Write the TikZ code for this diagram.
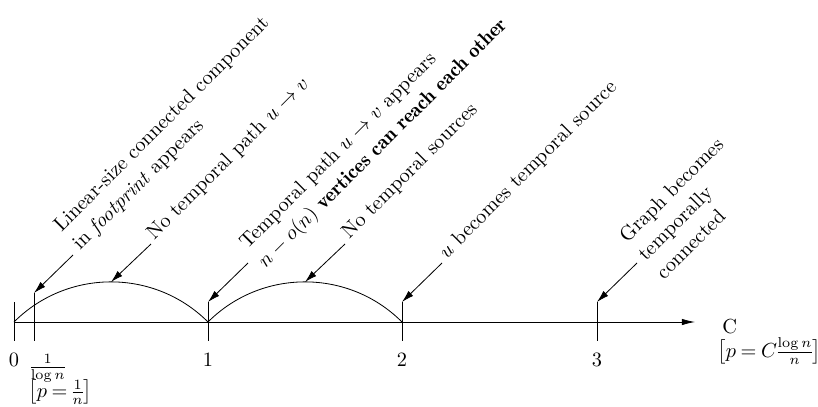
\documentclass[tikz,border=0pt]{standalone}
\usetikzlibrary{arrows.meta}
% slightly tighter spacing for the bracketed probabilities
\newcommand\tightmath{\thickmuskip=4mu\relax\nulldelimiterspace=0.3pt\relax}
\begin{document}
\begin{tikzpicture}[x=0.4914pt,y=-0.4914pt,
  lbl/.style={rotate=45, inner sep=0pt, align=left,
              font=\fontsize{10}{12.8}\selectfont},
  pin/.style={-{Latex[length=6pt,width=3.4pt]}},
  axisline/.style={-{Latex[length=6.5pt,width=3.2pt]}},
  ticklbl/.style={inner sep=0pt},
  bracketlbl/.style={inner sep=0pt, anchor=base west}]
\useasboundingbox (0,0) rectangle (818,407);

% points on the axis
\coordinate (p0) at (14,322);
\coordinate (p1) at (208,322);
\coordinate (p2) at (402,322);
\coordinate (p3) at (597,322);
\coordinate (pend) at (695,322);

% tick tops and bottoms
\coordinate (t0) at (14,302);   \coordinate (b0) at (14,341);
\coordinate (tl) at (34,293);   \coordinate (bl) at (34,341);
\coordinate (t1) at (208,302);  \coordinate (b1) at (208,341);
\coordinate (t2) at (402,302);  \coordinate (b2) at (402,341);
\coordinate (t3) at (597,302);  \coordinate (b3) at (597,341);

% axis and ticks
\draw[axisline] (p0) -- (pend);
\draw (t0) -- (b0);
\draw (tl) -- (bl);
\draw (t1) -- (b1);
\draw (t2) -- (b2);
\draw (t3) -- (b3);

% the two phase arcs
\draw (p0) to[out=45,in=135] (p1);
\draw (p1) to[out=45,in=135] (p2);
\coordinate (peak1) at (111,282);
\coordinate (peak2) at (305,282);

% tick labels
\node[ticklbl, anchor=base] (n0) at (14,366.5) {0};
\node[ticklbl, anchor=base] (n1) at (208,366.5) {1};
\node[ticklbl, anchor=base] (n2) at (402,366.5) {2};
\node[ticklbl, anchor=base] (n3) at (597,366.5) {3};
\node[ticklbl, anchor=base west] (nl) at (28,372) {$\frac{1}{\log n}$};
\node[bracketlbl] (pl) at (28,397.3) {$\tightmath\bigl[p=\frac{1}{n}\bigr]$};
\node[ticklbl, anchor=base west] (nc) at (722,333) {C};
\node[bracketlbl] (pc) at (717,357) {$\tightmath\bigl[p=C\frac{\log n}{n}\bigr]$};

% arrow starts
\coordinate (s1) at (73,255);
\coordinate (s2) at (151,244);
\coordinate (s3) at (248,263);
\coordinate (s4) at (345,244);
\coordinate (s5) at (442,263);
\coordinate (s6) at (637,263);

% rotated event labels
\node[lbl, anchor=west] (l1) at (67,238.5)
  {Linear-size connected component\\in \emph{footprint} appears};
\node[lbl, anchor=base west] (l2) at (154,240.7)
  {No temporal path $u\rightarrow v$};
\node[lbl, anchor=west] (l3) at (253,256)
  {Temporal path $u\rightarrow v$ appears\\$n-o(n)$ {\fontseries{b}\selectfont vertices can reach each other}};
\node[lbl, anchor=base west] (l4) at (349,240)
  {No temporal sources};
\node[lbl, anchor=base west] (l5) at (446.5,259.5)
  {$u$ becomes temporal source};
\node[lbl, anchor=west] (l6) at (640.5,257)
  {Graph becomes\\temporally\\connected};

% pointers
\draw[pin] (s1) -- (tl);
\draw[pin] (s2) -- (peak1);
\draw[pin] (s3) -- (t1);
\draw[pin] (s4) -- (peak2);
\draw[pin] (s5) -- (t2);
\draw[pin] (s6) -- (t3);
\end{tikzpicture}
\end{document}
